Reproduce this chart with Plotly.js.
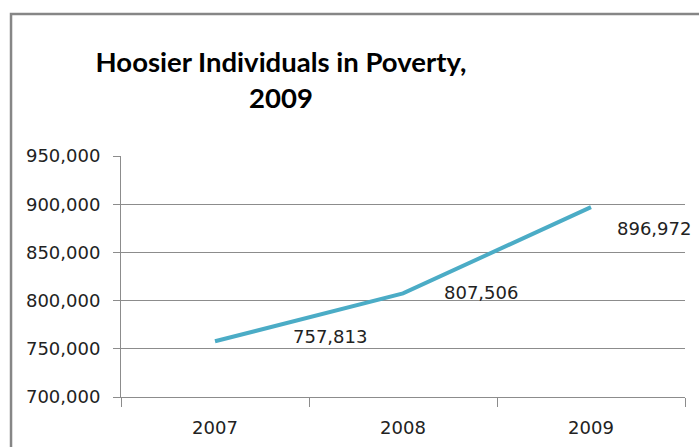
<!DOCTYPE html>
<html>
<head>
<meta charset="utf-8">
<script src="https://cdn.plot.ly/plotly-3.0.1.min.js"></script>
<style>html,body{margin:0;padding:0;background:#fff}#chart{width:699px;height:447px}</style>
</head>
<body>
<div id="chart"></div>
<script>
var years = ["2007", "2008", "2009"];
var individuals = [757813, 807506, 896972];
var yTicks = [700000, 750000, 800000, 850000, 900000, 950000];
var labelShiftX = [115, 78, 63];
var labelShiftY = [5, 1, -21];

function fmt(v){ return v.toString().replace(/\B(?=(\d{3})+(?!\d))/g, ","); }

var tickFont = {family: "DejaVu Sans, Verdana, sans-serif", size: 18, color: "#222222"};

var annotations = years.map(function(yr, i){
  return {
    x: i, y: individuals[i], xref: "x", yref: "y",
    text: fmt(individuals[i]), showarrow: false,
    xshift: labelShiftX[i], yshift: labelShiftY[i],
    font: tickFont
  };
});

var trace = {
  x: years, y: individuals, type: "scatter", mode: "lines",
  line: {color: "#4BACC6", width: 4},
  hoverinfo: "x+y"
};

var layout = {
  width: 699, height: 447,
  margin: {l: 121, r: 14, t: 156, b: 50, pad: 0},
  paper_bgcolor: "#ffffff", plot_bgcolor: "#ffffff",
  showlegend: false,
  title: {
    text: "Hoosier Individuals in Poverty,<br>2009",
    font: {family: "Lato, sans-serif", size: 27.5, color: "#000000", weight: "bold"},
    xref: "container", yref: "container",
    x: 0.402, xanchor: "center", y: 0.838, yanchor: "middle"
  },
  xaxis: {
    type: "category", range: [-0.5, 2.5], autorange: false,
    showgrid: false, showline: true, linecolor: "#8c8c8c", linewidth: 1,
    ticks: "outside", tickson: "boundaries", ticklen: 9, tickcolor: "#8c8c8c", tickwidth: 1,
    ticklabelstandoff: 14,
    tickangle: 0, tickfont: tickFont, zeroline: false, fixedrange: true
  },
  yaxis: {
    range: [700000, 950000], autorange: false, tickvals: yTicks, ticktext: yTicks.map(fmt),
    showgrid: true, gridcolor: "#8c8c8c", gridwidth: 1,
    showline: true, linecolor: "#8c8c8c", linewidth: 1,
    ticks: "outside", ticklen: 7, tickcolor: "#8c8c8c", tickwidth: 1,
    ticklabelstandoff: 9,
    tickfont: tickFont, zeroline: false, fixedrange: true
  },
  shapes: [{
    type: "rect", xref: "paper", yref: "paper",
    x0: -0.1950, x1: 1.3, y0: -0.6, y1: 1.589,
    line: {color: "#868686", width: 2.5}, fillcolor: "rgba(0,0,0,0)", layer: "above"
  }],
  annotations: annotations
};

Plotly.newPlot("chart", [trace], layout, {displayModeBar: false, responsive: false});
</script>
</body>
</html>
